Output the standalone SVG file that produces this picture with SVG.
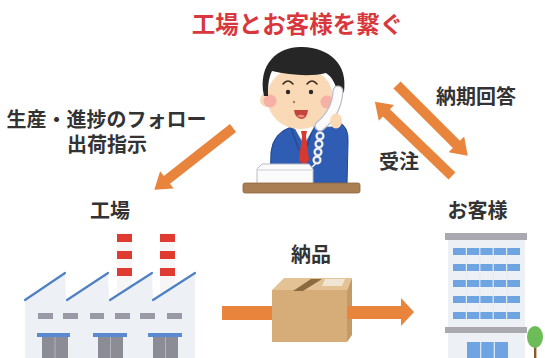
<svg xmlns="http://www.w3.org/2000/svg" width="545" height="358" viewBox="0 0 545 358">
  <style>
    .lbl { font-family: "Liberation Sans", "Noto Sans CJK JP", "Noto Sans CJK SC", sans-serif; font-weight: 700; fill: #333333; font-size: 20px; text-anchor: middle; }
    .title { font-family: "Liberation Sans", "Noto Sans CJK JP", "Noto Sans CJK SC", sans-serif; font-weight: 700; fill: #d8383d; font-size: 23.5px; text-anchor: middle; }
    .arrow { fill: #e8843c; }
    .roof { stroke: #4f80c4; stroke-width: 2.2; fill: none; stroke-linecap: round; }
    .wall { fill: #edf0f4; }
    .fwin { fill: #9a9aa6; }
    .door { fill: #8c8c97; }
    .lintel { fill: #5a8ad0; }
    .stack { fill: #f6f6f6; }
    .stripe { fill: #e03b30; }
    .bwin { fill: #6fa4e2; }
    .band { fill: #a9a9af; }
    .skin { fill: #f9d9b6; }
  </style>
  <defs>
    <!-- arrow drawn along +x, length 100 / 107 -->
    <path id="arr100" d="M0,-5 L84,-5 L84,-11 L100,0 L84,11 L84,5 L0,5 Z"/>
    <path id="arr107" d="M0,-5 L91,-5 L91,-11 L107,0 L91,11 L91,5 L0,5 Z"/>
  </defs>

  <rect width="545" height="358" fill="#ffffff"/>

  <text id="title" class="title" x="297.5" y="33">工場とお客様を繋ぐ</text>

  <!-- operator on the phone -->
  <g id="operator">
    <!-- suit -->
    <path d="M270,184 L271,152 Q273,133 291,127 L313,127 Q325,128 333,127 L338,122 Q349,126 348,142 L347,184 Z" fill="#2f5db3" stroke="#22478f" stroke-width="1"/>
    <path d="M291,128 L299,150 M313,128 L306,150" stroke="#24488f" stroke-width="1.2" fill="none"/>
    <!-- neck and shirt -->
    <rect x="294" y="118" width="19" height="11" class="skin"/>
    <polygon points="294,127 304,145 314,127" fill="#ffffff"/>
    <polygon points="301,131 307,131 306,136 309,160 304,166 299,160 302,136" fill="#d8392f"/>
    <!-- ears and face -->
    <circle cx="267" cy="100" r="7" class="skin"/>
    <circle cx="333" cy="100" r="7" class="skin"/>
    <ellipse cx="300" cy="98" rx="33" ry="31" class="skin"/>
    <circle cx="270" cy="101" r="6.5" fill="#f4a2a0" opacity="0.75"/>
    <circle cx="327" cy="102" r="6.5" fill="#f4a2a0" opacity="0.75"/>
    <!-- hair -->
    <path d="M264,96 C257,62 280,46 302,47 C330,48 348,64 344,92 L338,95 C336,84 332,77 326,73 C310,77 290,75 272,71 C268,79 268,88 268,96 Z" fill="#262626"/>
    <!-- brows, eyes, nose, mouth -->
    <path d="M283,84 Q288,78 293,84 M307,84 Q312,78 317,84" stroke="#3a2a1c" stroke-width="1.6" fill="none" stroke-linecap="round"/>
    <circle cx="288" cy="92" r="2.2" fill="#2a2a2a"/>
    <circle cx="311" cy="92" r="2.2" fill="#2a2a2a"/>
    <circle cx="294" cy="102" r="1.2" fill="#b07a5a"/>
    <path d="M294,110 L308,110 Q307,119 301,119 Q295,118 294,110 Z" fill="#c2443a"/>
    <path d="M297,116 Q301,113 305,116 Q302,119 297,116 Z" fill="#ee8b86"/>
    <!-- handset and hand -->
    <path d="M338,91 Q337,112 320,126" stroke="#b9bec8" stroke-width="11" fill="none" stroke-linecap="round"/>
    <path d="M338,91 Q337,112 320,126" stroke="#fbfbfb" stroke-width="8.5" fill="none" stroke-linecap="round"/>
    <ellipse cx="336" cy="121" rx="6" ry="7.5" class="skin"/>
    <!-- coiled cord -->
    <g fill="none" stroke="#c3c8d2" stroke-width="2.6">
      <circle cx="320" cy="136" r="3.4"/>
      <circle cx="319" cy="144" r="3.4"/>
      <circle cx="318" cy="152" r="3.4"/>
      <circle cx="317" cy="160" r="3.4"/>
    </g>
    <g fill="none" stroke="#f7f8fa" stroke-width="1.4">
      <circle cx="320" cy="136" r="3.4"/>
      <circle cx="319" cy="144" r="3.4"/>
      <circle cx="318" cy="152" r="3.4"/>
      <circle cx="317" cy="160" r="3.4"/>
      <path d="M316,163 Q313,167 310,168"/>
    </g>
    <!-- phone base -->
    <path d="M257,184 L257,169 L262,164 L309,164 L313,169 L313,184 Z" fill="#fbfbfb" stroke="#b9bcc2" stroke-width="1"/>
    <path d="M258,170 L312,170" stroke="#c9ccd2" stroke-width="1"/>
    <!-- desk -->
    <rect x="243" y="183" width="117" height="10" rx="2" fill="#a97e53" stroke="#8d653d" stroke-width="0.8"/>
  </g>

  <!-- factory -->
  <g id="factory">
    <rect x="117" y="233" width="15" height="65" class="stack"/>
    <rect x="160" y="233" width="15" height="60" class="stack"/>
    <rect x="117" y="234" width="15" height="8" class="stripe"/>
    <rect x="117" y="251" width="15" height="8" class="stripe"/>
    <rect x="117" y="268" width="15" height="8" class="stripe"/>
    <rect x="160" y="234" width="15" height="8" class="stripe"/>
    <rect x="160" y="251" width="15" height="8" class="stripe"/>
    <rect x="160" y="268" width="15" height="8" class="stripe"/>
    <path class="wall" d="M25,358 L25,300 L65,273 L66,300 L108,273 L109,300 L152,273 L153,300 L195,273 L195,358 Z"/>
    <path class="roof" d="M25,300 L65,273 M67,300 L108,273 M110,300 L152,273 M153,300 L195,273"/>
    <rect x="38" y="313" width="15" height="6" class="fwin"/>
    <rect x="63" y="313" width="15" height="6" class="fwin"/>
    <rect x="90" y="313" width="14" height="6" class="fwin"/>
    <rect x="115" y="313" width="15" height="6" class="fwin"/>
    <rect x="140" y="313" width="15" height="6" class="fwin"/>
    <rect x="167" y="313" width="15" height="6" class="fwin"/>
    <rect x="37" y="333" width="33" height="4" class="lintel"/>
    <rect x="93" y="333" width="34" height="4" class="lintel"/>
    <rect x="148" y="333" width="34" height="4" class="lintel"/>
    <rect x="42" y="337" width="26" height="21" class="door"/>
    <rect x="98" y="337" width="25" height="21" class="door"/>
    <rect x="153" y="337" width="25" height="21" class="door"/>
    <path d="M55,337 V358 M110.5,337 V358 M165.5,337 V358" stroke="#b3b3bc" stroke-width="1"/>
  </g>

  <!-- customer office -->
  <g id="customer">
    <rect x="448" y="240" width="77" height="118" class="wall"/>
    <rect x="445" y="233" width="82" height="7" class="band"/>
    <rect x="445" y="327" width="82" height="6" class="band"/>
    <g class="bwin">
      <rect x="453" y="248" width="67" height="7"/>
      <rect x="453" y="264" width="67" height="7"/>
      <rect x="453" y="280" width="67" height="7"/>
      <rect x="453" y="296" width="67" height="7"/>
      <rect x="453" y="312" width="67" height="7"/>
      <rect x="467" y="342" width="41" height="16"/>
    </g>
    <path d="M466.4,248 V319 M479.8,248 V319 M493.2,248 V319 M506.6,248 V319 M480.7,342 V358 M494.3,342 V358" stroke="#e4ecf6" stroke-width="1.2"/>
    <rect x="534" y="338" width="2.4" height="20" fill="#8a5a2c"/>
    <ellipse cx="535" cy="337" rx="8" ry="11" fill="#6cbd58"/>
  </g>

  <!-- parcel -->
  <g id="parcel">
    <polygon points="272,290 284,278 352,278 347,290" fill="#e3c395"/>
    <polygon points="347,290 352,278 352,335 347,342" fill="#c39968"/>
    <rect x="272" y="290" width="75" height="52" fill="#d6ad78"/>
    <polygon points="325,279 345,279 342,286 322,286" fill="#f0e4d2"/>
    <polygon points="293,291 303,291 322,279 311,279" fill="#8c6a40"/>
  </g>

  <!-- flow arrows -->
  <g id="connectors" class="arrow">
    <use href="#arr100" transform="translate(233,128) rotate(141.9)"/>
    <use href="#arr100" transform="translate(397,85) rotate(45)"/>
    <use href="#arr107" transform="translate(452,176) rotate(223.9)"/>
    <rect x="222" y="306" width="50" height="14"/>
    <path d="M347,306 L401,306 L401,298 L414,312 L401,326 L401,319 L347,319 Z"/>
  </g>

  <!-- labels -->
  <g id="labels">
    <text class="lbl" x="106.5" y="127" font-size="19">生産・進捗のフォロー</text>
    <text class="lbl" x="107" y="151.5">出荷指示</text>
    <text class="lbl" x="476" y="104">納期回答</text>
    <text class="lbl" x="399" y="169">受注</text>
    <text class="lbl" x="110" y="218">工場</text>
    <text class="lbl" x="477.5" y="218">お客様</text>
    <text class="lbl" x="311" y="262">納品</text>
  </g>
</svg>
